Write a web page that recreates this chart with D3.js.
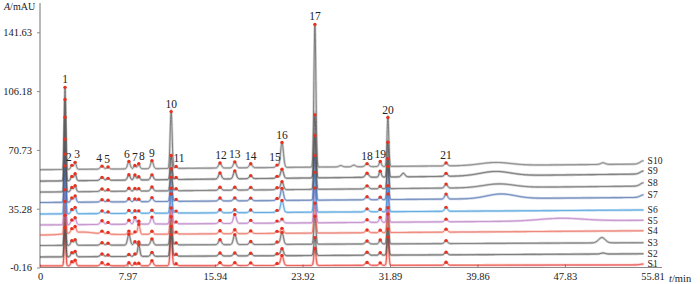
<!DOCTYPE html>
<html>
<head>
<meta charset="utf-8">
<script src="https://cdn.jsdelivr.net/npm/d3@7/dist/d3.min.js"></script>
<style>
  body { margin: 0; background: #fff; }
  svg { display: block; }
</style>
</head>
<body>
<svg id="chart" width="700" height="284"></svg>
<script>
// ---- data ----
const sampleNames = ['S1', 'S2', 'S3', 'S4', 'S5', 'S6', 'S7', 'S8', 'S9', 'S10'];
// baseline level of each trace at t=0 and its rise at the end of the run (mAU)
const baseOffsets = [0.8, 6.2, 13.1, 19.4, 25.5, 32.1, 39.0, 45.3, 51.9, 58.8];
const baseDrift = [0.6, 1.9, 1.7, 2.6, 2.8, 2.4, 3.1, 3.6, 4.3, 3.4];

const peakLabels = ['1', '2', '3', '4', '5', '6', '7', '8', '9', '10', '11',
  '12', '13', '14', '15', '16', '17', '18', '19', '20', '21'];
const peakTimes = [2.28, 2.9, 3.2, 5.65, 6.2, 8.1, 8.65, 9.0, 10.2, 11.95, 12.4,
  16.4, 17.75, 19.2, 21.6, 22.05, 25.05, 29.8, 31.0, 31.7, 37.0];
const peakWidths = [0.07, 0.1, 0.1, 0.15, 0.12, 0.12, 0.1, 0.1, 0.12, 0.09, 0.1,
  0.13, 0.13, 0.13, 0.12, 0.13, 0.09, 0.15, 0.1, 0.08, 0.13];
// peak heights (mAU), one row per peak, columns S1..S10
const peakHeights = [
  [23, 25, 26.5, 26.5, 35.5, 36, 38, 45, 49, 49.5],
  [2.5, 2.5, 2.8, 2.5, 2.8, 2.5, 2.5, 2.5, 2.6, 2.4],
  [3.4, 3.2, 3.4, 3.6, 4.2, 3.8, 3.8, 3.6, 4.2, 4.2],
  [1.8, 1.6, 1.5, 1.6, 2.2, 1.6, 1.4, 1.5, 1.8, 1.8],
  [1.0, 1.0, 1.2, 1.0, 1.2, 1.0, 1.0, 1.0, 1.2, 1.2],
  [1.8, 1.2, 6.5, 2.0, 2.4, 1.8, 1.8, 1.8, 3.2, 4.4],
  [1.5, 1.5, 2.0, 1.5, 4.0, 1.6, 1.6, 1.6, 3.0, 2.0],
  [1.5, 7.0, 1.8, 6.0, 1.8, 1.5, 1.5, 1.5, 2.0, 3.0],
  [3.0, 2.4, 3.6, 1.8, 4.2, 1.8, 2.4, 2.4, 3.0, 4.8],
  [18.7, 18, 17, 15.7, 18, 15, 14.5, 13.3, 14.5, 34.3],
  [1.2, 1.2, 1.2, 1.2, 1.2, 1.2, 1.2, 1.2, 1.2, 1.2],
  [1.8, 1.8, 3.0, 1.8, 1.8, 1.8, 1.8, 1.8, 3.6, 3.0],
  [1.8, 1.8, 6.0, 2.4, 5.4, 1.8, 1.8, 1.8, 4.8, 3.6],
  [1.6, 1.6, 1.8, 1.6, 1.8, 1.6, 1.6, 1.6, 1.8, 2.4],
  [1.2, 1.2, 1.4, 1.2, 1.2, 1.2, 1.2, 1.2, 1.2, 1.4],
  [6, 4.2, 7.2, 3, 2.4, 7.2, 7.2, 4.8, 5.4, 15],
  [10.2, 10.8, 16.9, 18, 21, 24, 27, 32.5, 38, 86],
  [1.8, 1.8, 1.8, 1.6, 1.6, 1.8, 1.8, 1.8, 2.4, 1.8],
  [1.5, 1.5, 2.4, 1.5, 3.0, 1.5, 1.5, 1.5, 3.6, 3.0],
  [17, 15.7, 18, 15, 17, 15.7, 20, 18, 21, 29.5],
  [1.8, 1.6, 1.8, 1.8, 1.6, 2.4, 3.0, 2.4, 1.8, 1.8]
];
// unlabelled features: [sample, time, height, width]
const extraPeaks = [
  ['S4', 3.8, 1.6, 1.2],
  ['S9', 33.1, 2.2, 0.15],
  ['S10', 27.4, 0.8, 0.15],
  ['S10', 28.6, 1.0, 0.15],
  ['S10', 41.5, 1.8, 1.4],
  ['S9', 41.5, 2.6, 1.4],
  ['S8', 41.8, 2.2, 1.4],
  ['S7', 42.0, 2.8, 1.3],
  ['S5', 47.5, 1.6, 2.0],
  ['S3', 51.2, 3.2, 0.3],
  ['S10', 51.3, 1.0, 0.2],
  ['S2', 51.3, 0.6, 0.2],
  ['S10', 55, 2.0, 0.3],
  ['S9', 55, 1.8, 0.3],
  ['S8', 55, 2.0, 0.3],
  ['S7', 55, 1.5, 0.3],
  ['S1', 55, 0.5, 0.3]
];
const runEnd = 55;

const xTickValues = [0, 7.97, 15.94, 23.92, 31.89, 39.86, 47.83, 55.81];
const xTickLabels = ['0', '7.97', '15.94', '23.92', '31.89', '39.86', '47.83', '55.81'];
const yTickValues = [-0.16, 35.28, 70.73, 106.18, 141.63];
const yTickLabels = ['-0.16', '35.28', '70.73', '106.18', '141.63'];

// ---- style ----
const colors = ['#e8261c', '#4a4a4a', '#555555', '#e85a48', '#b46ec0',
  '#2d8fd8', '#3f63a8', '#555555', '#4a4a4a', '#666666'];
const labelNudge = { '2': -3, '3': 2, '4': -3, '5': -1, '6': -2, '8': 3, '11': 3, '12': 1, '15': -2 };
const serif = '"Liberation Serif", "DejaVu Serif", serif';
const axisColor = '#8a8a8a';

const svg = d3.select('#chart');
const x = d3.scaleLinear().domain([0, 55.81]).range([40, 652.5]);
const y = d3.scaleLinear().domain([-0.16, 141.63]).range([267.5, 32.3]);

function traceValue(si, t) {
  let v = baseOffsets[si] + baseDrift[si] * t / runEnd;
  peakTimes.forEach((tp, pi) => {
    const d = (t - tp) / peakWidths[pi];
    if (Math.abs(d) < 7) v += peakHeights[pi][si] * Math.exp(-0.5 * d * d);
  });
  extraPeaks.forEach(([s, tp, h, w]) => {
    if (s !== sampleNames[si]) return;
    const d = (t - tp) / w;
    if (Math.abs(d) < 7) v += h * Math.exp(-0.5 * d * d);
  });
  return v;
}

const times = d3.range(0, runEnd + 0.0001, 0.01);
const traces = sampleNames.map((name, si) => times.map(t => [t, traceValue(si, t)]));

// ---- axes ----
const xAxis = d3.axisBottom(x)
  .tickValues(xTickValues)
  .tickFormat((d, i) => xTickLabels[i])
  .tickSizeInner(-3)
  .tickSizeOuter(0)
  .tickPadding(5);
const gx = svg.append('g').attr('transform', 'translate(0,267.5)').call(xAxis);
gx.select('.domain').remove();
gx.selectAll('line').attr('stroke', axisColor);
gx.selectAll('text').attr('font-family', serif).attr('font-size', 10.5).attr('fill', '#222');

const yAxis = d3.axisLeft(y)
  .tickValues(yTickValues)
  .tickFormat((d, i) => yTickLabels[i])
  .tickSizeInner(3)
  .tickSizeOuter(0)
  .tickPadding(5);
const gy = svg.append('g').attr('transform', 'translate(40,0)').call(yAxis);
gy.select('.domain').remove();
gy.selectAll('line').attr('stroke', axisColor);
gy.selectAll('text').attr('font-family', serif).attr('font-size', 10.5).attr('fill', '#222');

svg.append('line').attr('x1', 40).attr('x2', 40).attr('y1', 3).attr('y2', 267.5)
  .attr('stroke', axisColor).attr('stroke-width', 1.2);
svg.append('line').attr('x1', 40).attr('x2', 662).attr('y1', 267.5).attr('y2', 267.5)
  .attr('stroke', axisColor).attr('stroke-width', 1.2);

const yt = svg.append('text').attr('x', 4).attr('y', 10)
  .attr('font-family', serif).attr('font-size', 10).attr('fill', '#222');
yt.append('tspan').attr('font-style', 'italic').text('A');
yt.append('tspan').text('/mAU');
const xt = svg.append('text').attr('x', 669).attr('y', 282)
  .attr('font-family', serif).attr('font-size', 10.5).attr('fill', '#222');
xt.append('tspan').attr('font-style', 'italic').text('t');
xt.append('tspan').text('/min');

// ---- traces ----
const line = d3.line().x(d => x(d[0])).y(d => y(d[1]));
const gTraces = svg.append('g');
traces.forEach((tr, si) => {
  gTraces.append('path')
    .attr('d', line(tr))
    .attr('fill', 'none')
    .attr('stroke', colors[si])
    .attr('stroke-opacity', 0.28)
    .attr('stroke-width', 2.6);
  gTraces.append('path')
    .attr('d', line(tr))
    .attr('fill', 'none')
    .attr('stroke', colors[si])
    .attr('stroke-width', 0.8);
  const last = tr[tr.length - 1];
  svg.append('text')
    .attr('x', x(last[0]) + 4)
    .attr('y', y(last[1]))
    .attr('dy', '0.35em')
    .attr('font-family', serif)
    .attr('font-size', 9.5)
    .attr('fill', '#222')
    .text(sampleNames[si]);
});

// ---- peak markers ----
const gDots = svg.append('g');
peakTimes.forEach((tp, pi) => {
  let top = Infinity;
  sampleNames.forEach((s, si) => {
    const py = y(traceValue(si, tp));
    top = Math.min(top, py);
    gDots.append('circle')
      .attr('cx', x(tp))
      .attr('cy', py)
      .attr('r', 1.7)
      .attr('fill', '#e8321f');
  });
  svg.append('text')
    .attr('x', x(tp) + (labelNudge[peakLabels[pi]] || 0))
    .attr('y', top - 4)
    .attr('text-anchor', 'middle')
    .attr('font-family', serif)
    .attr('font-size', 11.5)
    .attr('fill', '#222')
    .text(peakLabels[pi]);
});
</script>
</body>
</html>
